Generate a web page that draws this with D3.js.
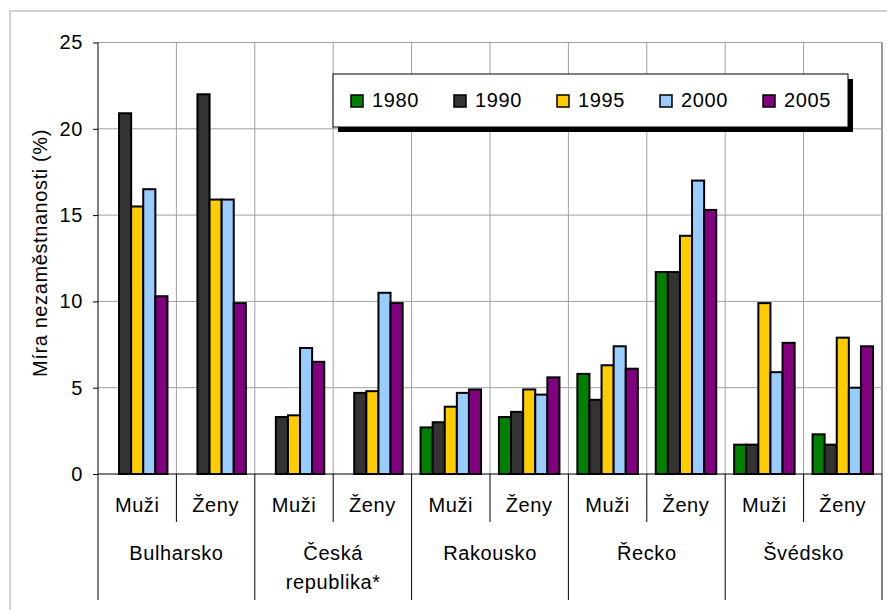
<!DOCTYPE html>
<html>
<head>
<meta charset="utf-8">
<script src="https://cdn.jsdelivr.net/npm/d3@7"></script>
<style>
  body { margin: 0; background: #fff; }
  text { font-family: "Liberation Sans", Arial, sans-serif; fill: #000; }
</style>
</head>
<body>
<svg id="chart"></svg>
<script>
var countries = ["Bulharsko", "Česká republika*", "Rakousko", "Řecko", "Švédsko"];
var sexes = ["Muži", "Ženy"];
var years = ["1980", "1990", "1995", "2000", "2005"];
var colors = ["#008000", "#333333", "#FFCC00", "#99CCFF", "#800080"];

// one value per country/sex, in order Muži, Ženy for each country
var v1980 = [null, null, null, null, 2.7, 3.3, 5.8, 11.7, 1.7, 2.3];
var v1990 = [20.9, 22.0, 3.3, 4.7, 3.0, 3.6, 4.3, 11.7, 1.7, 1.7];
var v1995 = [15.5, 15.9, 3.4, 4.8, 3.9, 4.9, 6.3, 13.8, 9.9, 7.9];
var v2000 = [16.5, 15.9, 7.3, 10.5, 4.7, 4.6, 7.4, 17.0, 5.9, 5.0];
var v2005 = [10.3, 9.9, 6.5, 9.9, 4.9, 5.6, 6.1, 15.3, 7.6, 7.4];
var yTicks = [0, 5, 10, 15, 20, 25];

var series = [v1980, v1990, v1995, v2000, v2005];

var W = 887, H = 610;
var m = { left: 98, right: 5, top: 42.5, bottom: 136 };
var w = W - m.left - m.right;
var h = H - m.top - m.bottom;
var FS = "20px", LS = "0.6px";

var svg = d3.select("#chart").attr("width", W).attr("height", H);

// outer chart border
svg.append("rect")
    .attr("x", 10).attr("y", 11)
    .attr("width", W + 20).attr("height", H + 20)
    .attr("fill", "none")
    .attr("stroke", "#d0d0d0")
    .attr("stroke-width", 2);

var chart = svg.append("g")
    .attr("transform", "translate(" + m.left + "," + m.top + ")");

// groups: country x sex
var groups = [];
countries.forEach(function (c) {
    sexes.forEach(function (s) { groups.push(c + "|" + s); });
});

var x0 = d3.scaleBand().domain(groups).range([0, w]).paddingInner(0).paddingOuter(0);
var x1 = d3.scaleBand().domain(years).range([0, x0.bandwidth()]).paddingInner(0).paddingOuter(0.74);
var y = d3.scaleLinear().domain([0, 25]).range([h, 0]);

// grid lines
chart.append("g").selectAll("line")
    .data(yTicks.slice(1))
    .enter().append("line")
    .attr("x1", 0).attr("x2", w)
    .attr("y1", function (d) { return y(d); })
    .attr("y2", function (d) { return y(d); })
    .attr("stroke", "#a0a0a0").attr("stroke-width", 1);

chart.append("g").selectAll("line")
    .data(groups.slice(1))
    .enter().append("line")
    .attr("x1", function (d) { return x0(d); })
    .attr("x2", function (d) { return x0(d); })
    .attr("y1", 0).attr("y2", h)
    .attr("stroke", "#a0a0a0").attr("stroke-width", 1);

// plot area right edge
chart.append("line")
    .attr("x1", w).attr("x2", w).attr("y1", 0).attr("y2", h)
    .attr("stroke", "#999").attr("stroke-width", 2);

// bars
var bars = chart.append("g");
series.forEach(function (vals, si) {
    bars.append("g").selectAll("rect")
        .data(vals.map(function (v, i) { return { g: groups[i], v: v }; })
            .filter(function (d) { return d.v != null; }))
        .enter().append("rect")
        .attr("x", function (d) { return x0(d.g) + x1(years[si]); })
        .attr("y", function (d) { return y(d.v); })
        .attr("width", x1.bandwidth())
        .attr("height", function (d) { return y(0) - y(d.v); })
        .attr("fill", colors[si])
        .attr("stroke", "#000")
        .attr("stroke-width", 2);
});

// y axis
var yAxis = d3.axisLeft(y).tickValues(yTicks).tickSize(5).tickPadding(10);
var gY = chart.append("g").call(yAxis);
gY.select(".domain").remove();
gY.selectAll(".tick line").attr("stroke", "#000");
gY.selectAll(".tick text")
    .style("font-size", FS)
    .style("letter-spacing", LS)
    .style("font-family", "'Liberation Sans', Arial, sans-serif");

chart.append("line")
    .attr("x1", 0).attr("x2", 0).attr("y1", 0).attr("y2", H - m.top - 10)
    .attr("stroke", "#000").attr("stroke-width", 1);

// baseline
chart.append("line")
    .attr("x1", 0).attr("x2", w).attr("y1", h).attr("y2", h)
    .attr("stroke", "#000").attr("stroke-width", 1.2);

// category axis: sex level
var catY = h;
chart.append("g").selectAll("line")
    .data(groups.filter(function (d, i) { return i % 2 == 1; }))
    .enter().append("line")
    .attr("x1", function (d) { return x0(d); })
    .attr("x2", function (d) { return x0(d); })
    .attr("y1", catY).attr("y2", catY + 48)
    .attr("stroke", "#000");

chart.append("g").selectAll("text")
    .data(groups)
    .enter().append("text")
    .attr("x", function (d) { return x0(d) + x0.bandwidth() / 2; })
    .attr("y", catY + 38)
    .attr("text-anchor", "middle")
    .style("font-size", FS)
    .style("letter-spacing", LS)
    .text(function (d) { return d.split("|")[1]; });

// category axis: country level
chart.append("g").selectAll("line")
    .data(countries.map(function (c) { return x0(c + "|Muži"); }).slice(1).concat([w]))
    .enter().append("line")
    .attr("x1", function (d) { return d; })
    .attr("x2", function (d) { return d; })
    .attr("y1", catY).attr("y2", H - m.top - 10)
    .attr("stroke", "#000");

var cl = chart.append("g").selectAll("text")
    .data(countries)
    .enter().append("text")
    .attr("text-anchor", "middle")
    .style("font-size", FS)
    .style("letter-spacing", LS)
    .attr("transform", function (c) {
        return "translate(" + (x0(c + "|Muži") + x0.bandwidth()) + "," + (catY + 86) + ")";
    });
cl.each(function (c) {
    var t = d3.select(this);
    c.split(" ").forEach(function (word, i) {
        t.append("tspan").attr("x", 0).attr("y", i * 29).text(word);
    });
});

// y axis title
svg.append("text")
    .attr("transform", "translate(47,253) rotate(-90)")
    .attr("text-anchor", "middle")
    .style("font-size", FS)
    .style("letter-spacing", LS)
    .text("Míra nezaměstnanosti (%)");

// legend
var lg = svg.append("g").attr("transform", "translate(333,74)");
lg.append("rect")
    .attr("x", 5).attr("y", 5).attr("width", 515).attr("height", 53)
    .attr("fill", "#000");
lg.append("rect")
    .attr("x", 0).attr("y", 0).attr("width", 515).attr("height", 53)
    .attr("fill", "#fff").attr("stroke", "#000").attr("stroke-width", 1);
var li = lg.selectAll(".li")
    .data(years)
    .enter().append("g")
    .attr("transform", function (d, i) { return "translate(" + (18 + i * 103) + ",0)"; });
li.append("rect")
    .attr("x", 0).attr("y", 21).attr("width", 12).attr("height", 12)
    .attr("fill", function (d, i) { return colors[i]; })
    .attr("stroke", "#000").attr("stroke-width", 1.5);
li.append("text")
    .attr("x", 21).attr("y", 33)
    .style("font-size", FS)
    .style("letter-spacing", LS)
    .text(function (d) { return d; });
</script>
</body>
</html>
